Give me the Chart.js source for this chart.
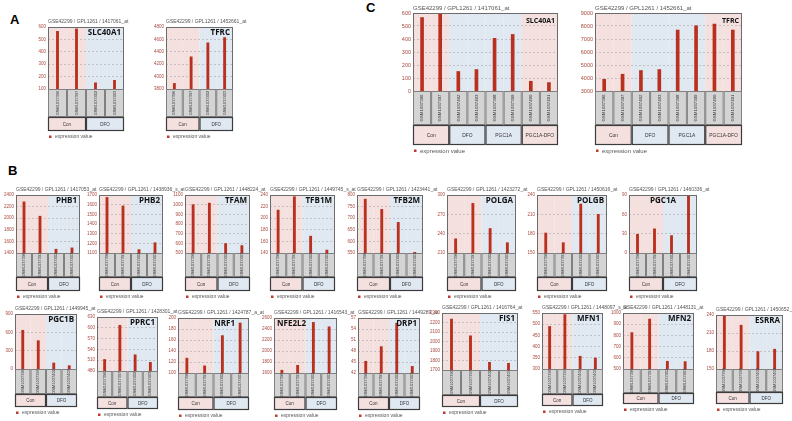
<!DOCTYPE html>
<html>
<head>
<meta charset="utf-8">
<script src="https://cdn.jsdelivr.net/npm/chart.js@4.4.0/dist/chart.umd.min.js"></script>
<style>
body { margin: 0; background: #fff; width: 792px; height: 421px; position: relative; overflow: hidden; }
canvas { position: absolute; }
.panel { position: absolute; font-family: "Liberation Sans", Arial, sans-serif; font-weight: bold; font-size: 13px; color: #000; }
</style>
</head>
<body>
<div class="panel" style="left:10px;top:12px">A</div>
<div class="panel" style="left:8px;top:163px">B</div>
<div class="panel" style="left:366px;top:0px">C</div>
<script>
// samples and groups
const samples_4 = ["GSM1037396", "GSM1037397", "GSM1037402", "GSM1037403"];
const samples_8 = ["GSM1037396", "GSM1037397", "GSM1037402", "GSM1037403", "GSM1037398", "GSM1037399", "GSM1037400", "GSM1037401"];
const groups_2 = ["Con", "DFO"];
const groups_4 = ["Con", "DFO", "PGC1A", "PGC1A-DFO"];

// expression values
const slc40a1_a = [565, 585, 150, 170];
const tfrc_a = [3890, 4320, 4545, 4630];
const slc40a1_c = [565, 590, 150, 165, 405, 435, 75, 65];
const tfrc_c = [3900, 4290, 4575, 4650, 7690, 8020, 8150, 7690];
const phb1 = [2282, 2035, 1465, 1488];
const phb2 = [1675, 1587, 1135, 1206];
const tfam = [1000, 1016, 598, 577];
const tfb1m = [214, 237, 169, 145];
const tfb2m = [782, 738, 682, 553];
const polga = [232, 287, 248, 226];
const polgb = [181, 166, 226, 210];
const pgc1a = [29, 37.5, 27, 88];
const pgc1b = [633, 464, 98, 55];
const pprc1 = [512, 607, 525, 504];
const nrf1 = [127, 113, 168, 191];
const nfe2l2 = [1650, 1740, 2520, 2440];
const drp1 = [45.2, 49.2, 55.6, 43.8];
const fis1 = [2236, 2060, 1781, 1771];
const mfn1 = [490, 543, 357, 349];
const mfn2 = [825, 946, 569, 566];
const esrra = [239, 223, 179, 183];

// y axis [min, max, step]
const ticks_slc40a1_a = [100, 600, 100];
const ticks_tfrc_a = [3800, 4800, 200];
const ticks_slc40a1_c = [0, 600, 100];
const ticks_tfrc_c = [3000, 9000, 1000];
const ticks_phb1 = [1400, 2400, 200];
const ticks_phb2 = [1100, 1700, 100];
const ticks_tfam = [500, 1100, 100];
const ticks_tfb1m = [140, 240, 20];
const ticks_tfb2m = [550, 800, 50];
const ticks_polga = [210, 300, 30];
const ticks_polgb = [150, 240, 30];
const ticks_pgc1a = [0, 90, 30];
const ticks_pgc1b = [0, 900, 300];
const ticks_pprc1 = [480, 630, 30];
const ticks_nrf1 = [100, 200, 20];
const ticks_nfe2l2 = [1600, 2600, 200];
const ticks_drp1 = [42, 57, 3];
const ticks_fis1 = [1700, 2300, 100];
const ticks_mfn1 = [300, 550, 50];
const ticks_mfn2 = [500, 1000, 100];
const ticks_esrra = [150, 240, 30];

const PINK = '#f5e0e0';
const BLUE = '#e0e8f2';
const group_fill = { "Con": PINK, "DFO": BLUE, "PGC1A": BLUE, "PGC1A-DFO": PINK };

function make_chart(s) {
    const n = s.samples.length;
    const per_group = n / s.groups.length;
    const pad_l = 26, pad_r = 34, pad_t = 16;
    const below = s.sh + s.gh + 12;
    const canvas = document.createElement('canvas');
    canvas.width = s.w + pad_l + pad_r;
    canvas.height = s.h + pad_t + below;
    canvas.style.left = (s.x - pad_l) + 'px';
    canvas.style.top = (s.y - pad_t) + 'px';
    document.body.appendChild(canvas);

    const extras = {
        id: 'extras',
        beforeDraw(chart) {
            const { ctx, chartArea: a } = chart;
            const xs = chart.scales.x;
            const bw = a.width / n;
            ctx.save();
            for (let i = 0; i < n; ++i) {
                const cx = xs.getPixelForValue(i);
                ctx.fillStyle = group_fill[s.groups[Math.floor(i / per_group)]];
                ctx.fillRect(cx - bw / 2, a.top, bw, a.height);
            }
            ctx.restore();
        },
        afterDatasetsDraw(chart) {
            const { ctx, chartArea: a } = chart;
            const xs = chart.scales.x;
            const bw = a.width / n;
            ctx.save();
            // plot frame
            ctx.strokeStyle = '#6b6b6b';
            ctx.lineWidth = 1;
            ctx.strokeRect(a.left + 0.5, a.top + 0.5, a.width - 1, a.height);

            // series title
            ctx.fillStyle = '#555';
            ctx.font = s.tfont + 'px "Liberation Sans", Arial, sans-serif';
            ctx.textAlign = 'left';
            ctx.textBaseline = 'alphabetic';
            ctx.fillText(s.title, a.left, a.top - (s.big ? 3 : 4));

            // gene name
            ctx.fillStyle = '#111';
            ctx.font = 'bold ' + s.gfont + 'px "Open Sans", "DejaVu Sans", sans-serif';
            ctx.textBaseline = 'top';
            const align = s.galign || 'right';
            ctx.textAlign = align;
            let gx = a.right - 3 - (s.gdx || 0);
            if (align === 'center') gx = (a.left + a.right) / 2;
            if (align === 'left') gx = a.left + 3;
            ctx.fillText(s.gene, gx, a.top + (s.big ? 4 : 2));

            // sample boxes
            const yb = a.bottom;
            for (let i = 0; i < n; ++i) {
                const cx = xs.getPixelForValue(i);
                ctx.fillStyle = '#d4d4d4';
                ctx.fillRect(cx - bw / 2, yb, bw, s.sh);
                ctx.strokeStyle = '#808080';
                ctx.strokeRect(cx - bw / 2 + 0.5, yb + 0.5, bw - 1, s.sh - 1);
                ctx.save();
                ctx.translate(cx, yb + s.sh / 2);
                ctx.rotate(-Math.PI / 2);
                ctx.fillStyle = '#333';
                ctx.font = s.sfont + 'px "Liberation Sans", Arial, sans-serif';
                ctx.textAlign = 'center';
                ctx.textBaseline = 'middle';
                ctx.fillText(s.samples[i], 0, 0);
                ctx.restore();
            }

            // group boxes
            const yg = yb + s.sh;
            for (let g = 0; g < s.groups.length; ++g) {
                const x0 = xs.getPixelForValue(g * per_group) - bw / 2;
                const gw = bw * per_group;
                ctx.fillStyle = group_fill[s.groups[g]];
                ctx.fillRect(x0, yg, gw, s.gh);
                ctx.strokeStyle = '#3c3c3c';
                ctx.lineWidth = 1.2;
                ctx.strokeRect(x0 + 0.5, yg + 0.5, gw - 1, s.gh - 1);
                ctx.fillStyle = '#333';
                ctx.font = s.sfont + 0.5 + 'px "Liberation Sans", Arial, sans-serif';
                ctx.textAlign = 'center';
                ctx.textBaseline = 'middle';
                ctx.fillText(s.groups[g], x0 + gw / 2, yg + s.gh / 2 + 0.5);
            }

            // legend
            const yl = yg + s.gh + 6;
            ctx.fillStyle = '#c0392b';
            ctx.fillRect(a.left + 1, yl - 1.5, 2.5, 2.5);
            ctx.fillStyle = '#555';
            ctx.font = s.tfont + 'px "Liberation Sans", Arial, sans-serif';
            ctx.textAlign = 'left';
            ctx.textBaseline = 'middle';
            ctx.fillText('expression value', a.left + 7, yl);
            ctx.restore();
        }
    };

    new Chart(canvas, {
        type: 'bar',
        data: {
            labels: s.samples,
            datasets: [{
                label: 'expression value',
                data: s.values,
                backgroundColor: '#b9301f',
                barThickness: s.big ? 3 : 2.2,
            }]
        },
        options: {
            responsive: false,
            animation: false,
            devicePixelRatio: 1,
            layout: { padding: { left: 0, right: pad_r, top: pad_t, bottom: 0 } },
            plugins: { legend: { display: false }, tooltip: { enabled: false } },
            scales: {
                x: {
                    grid: { display: false },
                    border: { display: false },
                    ticks: { display: false },
                    afterFit(scale) { scale.height = below; }
                },
                y: {
                    min: s.ticks[0],
                    max: s.ticks[1],
                    ticks: {
                        stepSize: s.ticks[2],
                        color: '#a8483e',
                        font: { size: s.big ? 5.5 : 4.5, family: '"Liberation Sans", Arial, sans-serif' },
                        padding: 2,
                        callback: v => String(v)
                    },
                    grid: { color: '#a9a9a9', drawTicks: false, lineWidth: 0.6 },
                    border: { display: false, dash: [2, 2] },
                    afterFit(scale) { scale.width = pad_l; }
                }
            }
        },
        plugins: [extras]
    });
}

const small = { sfont: 4, tfont: 5, gfont: 8, samples: samples_4, groups: groups_2 };

// panel A
make_chart({ ...small, x: 48, y: 27, w: 76, h: 62, sh: 28, gh: 14, gene: 'SLC40A1', title: 'GSE42299 / GPL1261 / 1417061_at', values: slc40a1_a, ticks: ticks_slc40a1_a });
make_chart({ ...small, x: 166, y: 27, w: 67, h: 62, sh: 28, gh: 14, gene: 'TFRC', title: 'GSE42299 / GPL1261 / 1452661_at', values: tfrc_a, ticks: ticks_tfrc_a });

// panel C
const big = { big: true, sfont: 4.4, tfont: 6, gfont: 7, samples: samples_8, groups: groups_4 };
make_chart({ ...big, x: 413, y: 13, w: 145, h: 78, sh: 34, gh: 20, gene: 'SLC40A1', title: 'GSE42299 / GPL1261 / 1417061_at', values: slc40a1_c, ticks: ticks_slc40a1_c });
make_chart({ ...big, x: 595, y: 13, w: 147, h: 78, sh: 34, gh: 20, gene: 'TFRC', title: 'GSE42299 / GPL1261 / 1452661_at', values: tfrc_c, ticks: ticks_tfrc_c });

// panel B, first row
const r1 = { ...small, y: 195, h: 58, sh: 24, gh: 14 };
make_chart({ ...r1, x: 16, w: 64, gene: 'PHB1', title: 'GSE42299 / GPL1261 / 1417053_at', values: phb1, ticks: ticks_phb1 });
make_chart({ ...r1, x: 99, w: 64, gene: 'PHB2', title: 'GSE42299 / GPL1261 / 1438936_s_at', values: phb2, ticks: ticks_phb2 });
make_chart({ ...r1, x: 185, w: 65, gene: 'TFAM', title: 'GSE42299 / GPL1261 / 1448224_at', values: tfam, ticks: ticks_tfam });
make_chart({ ...r1, x: 270, w: 65, gene: 'TFB1M', title: 'GSE42299 / GPL1261 / 1449745_s_at', values: tfb1m, ticks: ticks_tfb1m });
make_chart({ ...r1, x: 357, w: 66, gene: 'TFB2M', title: 'GSE42299 / GPL1261 / 1423441_at', values: tfb2m, ticks: ticks_tfb2m });
make_chart({ ...r1, x: 447, w: 69, gene: 'POLGA', title: 'GSE42299 / GPL1261 / 1423272_at', values: polga, ticks: ticks_polga });
make_chart({ ...r1, x: 537, w: 70, gene: 'POLGB', title: 'GSE42299 / GPL1261 / 1450616_at', values: polgb, ticks: ticks_polgb });
make_chart({ ...r1, x: 629, w: 68, gene: 'PGC1A', galign: 'center', title: 'GSE42299 / GPL1261 / 1460336_at', values: pgc1a, ticks: ticks_pgc1a });

// panel B, second row
make_chart({ ...small, x: 15, y: 314, w: 62, h: 55, sh: 25, gh: 13, gene: 'PGC1B', title: 'GSE42299 / GPL1261 / 1449945_at', values: pgc1b, ticks: ticks_pgc1b });
make_chart({ ...small, x: 97, y: 317, w: 61, h: 54, sh: 26, gh: 12, gene: 'PPRC1', title: 'GSE42299 / GPL1261 / 1428301_at', values: pprc1, ticks: ticks_pprc1 });
make_chart({ ...small, x: 178, y: 318, w: 71, h: 55, sh: 24, gh: 13, gene: 'NRF1', gdx: 11, title: 'GSE42299 / GPL1261 / 1424787_a_at', values: nrf1, ticks: ticks_nrf1 });
make_chart({ ...small, x: 274, y: 318, w: 63, h: 55, sh: 24, gh: 13, gene: 'NFE2L2', galign: 'left', title: 'GSE42299 / GPL1261 / 1416543_at', values: nfe2l2, ticks: ticks_nfe2l2 });
make_chart({ ...small, x: 358, y: 318, w: 62, h: 55, sh: 24, gh: 13, gene: 'DRP1', title: 'GSE42299 / GPL1261 / 1449289_at', values: drp1, ticks: ticks_drp1 });
make_chart({ ...small, x: 442, y: 313, w: 76, h: 57, sh: 25, gh: 12, gene: 'FIS1', title: 'GSE42299 / GPL1261 / 1416764_at', values: fis1, ticks: ticks_fis1 });
make_chart({ ...small, x: 542, y: 313, w: 61, h: 56, sh: 25, gh: 12, gene: 'MFN1', title: 'GSE42299 / GPL1261 / 1448097_s_at', values: mfn1, ticks: ticks_mfn1 });
make_chart({ ...small, x: 623, y: 313, w: 71, h: 56, sh: 24, gh: 11, gene: 'MFN2', title: 'GSE42299 / GPL1261 / 1448131_at', values: mfn2, ticks: ticks_mfn2 });
make_chart({ ...small, x: 716, y: 315, w: 67, h: 54, sh: 23, gh: 12, gene: 'ESRRA', title: 'GSE42299 / GPL1261 / 1450652_at', values: esrra, ticks: ticks_esrra });
</script>
</body>
</html>
